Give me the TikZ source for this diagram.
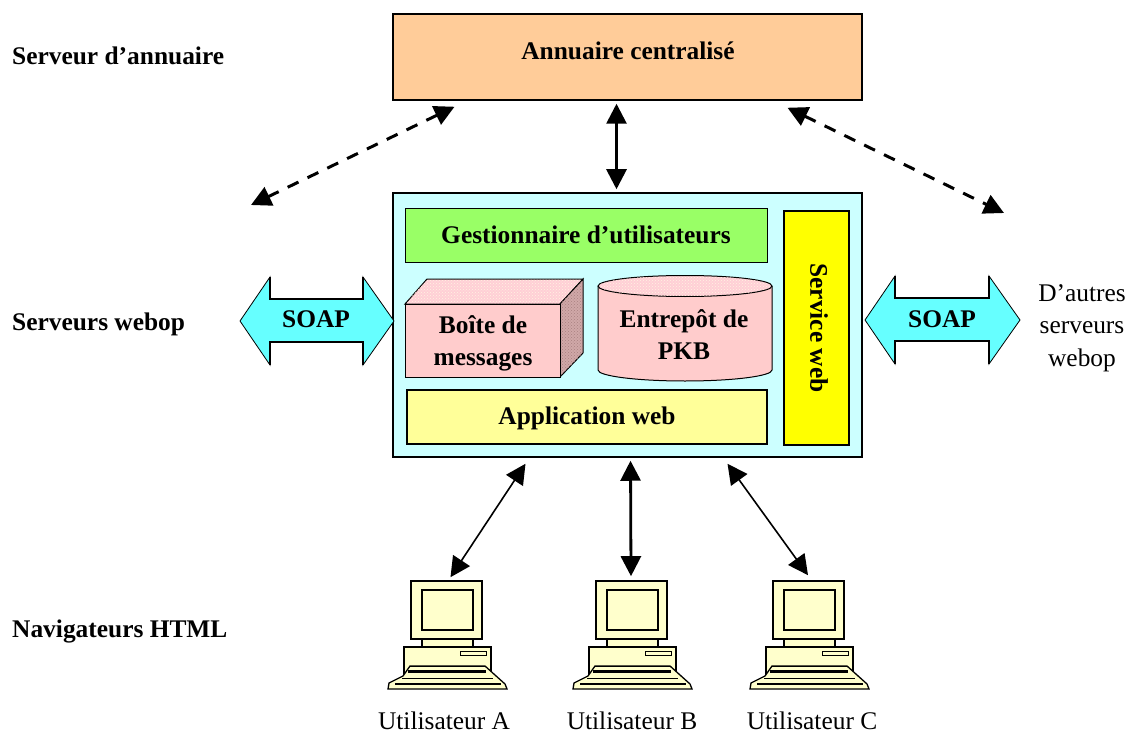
\documentclass[tikz,border=0pt]{standalone}
\usepackage{fontspec}
\setmainfont{Liberation Serif}
\usetikzlibrary{arrows.meta,patterns}
\definecolor{orangebox}{HTML}{FFCC99}
\definecolor{cyanbox}{HTML}{CCFFFF}
\definecolor{greenbox}{HTML}{99FF66}
\definecolor{yellowbox}{HTML}{FFFF00}
\definecolor{appbox}{HTML}{FFFF99}
\definecolor{pinkbox}{HTML}{FFCCCC}
\definecolor{pinktop}{HTML}{FFCFD6}
\definecolor{pinkside}{HTML}{D0A8A8}
\definecolor{speckA}{HTML}{FFF4E0}
\definecolor{speckB}{HTML}{A88080}
\definecolor{soapfill}{HTML}{66FFFF}
\definecolor{pcfill}{HTML}{FFFFCC}
\newcommand\bigfont{\fontsize{25.4}{32}\selectfont\bfseries}
\tikzset{
  box/.style={draw=black,line width=1.5pt,inner sep=0pt,align=center,font=\bigfont},
  boldtext/.style={inner sep=0pt,align=center,font=\bigfont},
  lab/.style={inner sep=0pt,font=\bigfont,anchor=west},
  plain/.style={inner sep=0pt,align=center,font=\fontsize{25.4}{32.5}\selectfont},
  userlabel/.style={inner sep=0pt,font=\fontsize{25.4}{30}\selectfont},
  tip/.style={{Triangle[length=20pt,width=20pt]}-{Triangle[length=20pt,width=20pt]}},
  thickarrow/.style={tip,line width=2.8pt},
  thinarrow/.style={tip,line width=1.6pt},
  dasharrow/.style={tip,line width=3pt,dash pattern=on 12pt off 10pt},
  pcpart/.style={draw=black,fill=pcfill,line width=1.3pt},
  soapline/.style={draw=black,fill=soapfill,line width=0.8pt},
}
\newcommand\computer[2]{%
\begin{scope}[shift={(#2,581)}]
  \path[pcpart] (11,58) rectangle (62,66);
  \path[pcpart,line width=1.2pt] (-7,66) rectangle (80,96);
  \draw[black,line width=2pt] (80,66) -- (80,94);
  \draw[black,fill=pcfill,line width=0.9pt] (49,70) rectangle (75,74);
  \path[pcpart] (-23,108) -- (-22,102) -- (-8,95) -- (-1,85) -- (74,85) -- (84,94) -- (94,103) -- (96,108) -- cycle;
  \draw[black,line width=1.5pt] (-1,85.5) -- (74,85.5);
  \draw[black,line width=2.2pt] (-3,90.5) -- (75,90.5);
  \draw[black,line width=1pt] (-9,97) -- (82,97);
  \draw[black,line width=2pt] (-16,103) -- (90,103);
  \node[draw=black,fill=pcfill,line width=1.6pt,minimum width=71pt,minimum height=58pt,inner sep=0pt] (#1) at (35.5,29) {};
  \draw[black,fill=pcfill,line width=1.6pt] (11,9) rectangle (62,49);
\end{scope}}
\begin{document}
\begin{tikzpicture}[x=1pt,y=-1pt]
\useasboundingbox (0,0) rectangle (1131,735);
% level labels
\node[lab] (l1) at (12,56) {Serveur d’annuaire};
\node[lab] (l2) at (12,324) {Serveurs webop};
\node[lab] (l3) at (12,631) {Navigateurs HTML};
% directory
\node[box,fill=orangebox,minimum width=469pt,minimum height=86pt] (ann) at (627.5,57) {};
\node[boldtext] (anntxt) at (628,51) {Annuaire centralisé};
% main server
\node[box,fill=cyanbox,minimum width=469pt,minimum height=264pt] (main) at (627.5,325) {};
\node[box,line width=1pt,fill=greenbox,minimum width=362pt,minimum height=53pt] (gest) at (586,235.5) {};
\node[boldtext] (gesttxt) at (586,234.5) {Gestionnaire d’utilisateurs};
\node[box,line width=1.2pt,fill=yellowbox,minimum width=65pt,minimum height=234pt] (sw) at (816.5,328) {};
\node[rotate=-90,boldtext] (swt) at (819,328) {Service web};
\node[box,line width=1.2pt,fill=appbox,minimum width=360pt,minimum height=54pt] (app) at (587,417) {};
\node[boldtext] (apptxt) at (587,418) {Application web};
% message box (cuboid)
\draw[black,line width=1pt,fill=pinktop] (405,304) -- (427,279) -- (583,279) -- (560,304) -- cycle;
\fill[pattern=crosshatch dots,pattern color=speckA] (405,304) -- (427,279) -- (583,279) -- (560,304) -- cycle;
\draw[black,line width=1pt,fill=pinkside] (560,304) -- (583,279) -- (583,353) -- (560,377) -- cycle;
\fill[pattern=crosshatch dots,pattern color=speckB] (560,304) -- (583,279) -- (583,353) -- (560,377) -- cycle;
\node[box,line width=1pt,fill=pinkbox,minimum width=155pt,minimum height=73pt] (msg) at (482.5,340.5) {};
\node[boldtext] (msgtxt) at (483,343) {Boîte de\\messages};
% PKB store (cylinder)
\draw[black,line width=1pt,fill=pinkbox] (598,286) -- (598,370) arc[start angle=180,end angle=360,x radius=87pt,y radius=11pt] -- (772,286);
\draw[black,line width=1pt,fill=pinktop] (685,286) ellipse[x radius=87pt,y radius=10.5pt];
\fill[pattern=crosshatch dots,pattern color=speckA] (685,286) ellipse[x radius=86pt,y radius=10pt];
\node[boldtext] (pkb) at (684,334.5) {Entrepôt de\\PKB};
% SOAP arrows
\path[soapline] (240,321) -- (270,277) -- (270,299) -- (363,299) -- (363,277) -- (394,321) -- (363,365) -- (363,342) -- (270,342) -- (270,365) -- cycle;
\draw[black,line width=2pt] (270,277) -- (270,299) -- (363,299) -- (363,277) (270,365) -- (270,342) -- (363,342) -- (363,365);
\node[boldtext] (soapL) at (316,319) {SOAP};
\path[soapline] (865,320) -- (895,276) -- (895,298) -- (989,298) -- (989,276) -- (1020,320) -- (989,364) -- (989,341) -- (895,341) -- (895,364) -- cycle;
\draw[black,line width=2pt] (895,276) -- (895,298) -- (989,298) -- (989,276) (895,364) -- (895,341) -- (989,341) -- (989,364);
\node[boldtext] (soapR) at (942,319) {SOAP};
\node[plain] (others) at (1082,328) {D’autres\\serveurs\\webop};
% computers
\computer{pcA}{411}
\computer{pcB}{596}
\computer{pcC}{773}
\node[userlabel] (ua) at (444,721) {Utilisateur A};
\node[userlabel] (ub) at (632,721) {Utilisateur B};
\node[userlabel] (uc) at (812,721) {Utilisateur C};
% free ends
\coordinate (freeL) at (251,205);
\coordinate (freeR) at (1004,213);
% connectors
\draw[dasharrow] ([shift={(-173,6)}]ann.south) -- (freeL);
\draw[thickarrow] ([shift={(-11,3)}]ann.south) -- ([shift={(-11,-3)}]main.north);
\draw[dasharrow] ([shift={(160,7)}]ann.south) -- (freeR);
\draw[thinarrow] ([shift={(-102,6)}]main.south) -- ([shift={(4,-3)}]pcA.north);
\draw[thickarrow] ([shift={(3,3)}]main.south) -- ([shift={(-0.5,-4)}]pcB.north);
\draw[thinarrow] ([shift={(100,6)}]main.south) -- ([shift={(-0.5,-5)}]pcC.north);
\end{tikzpicture}
\end{document}
